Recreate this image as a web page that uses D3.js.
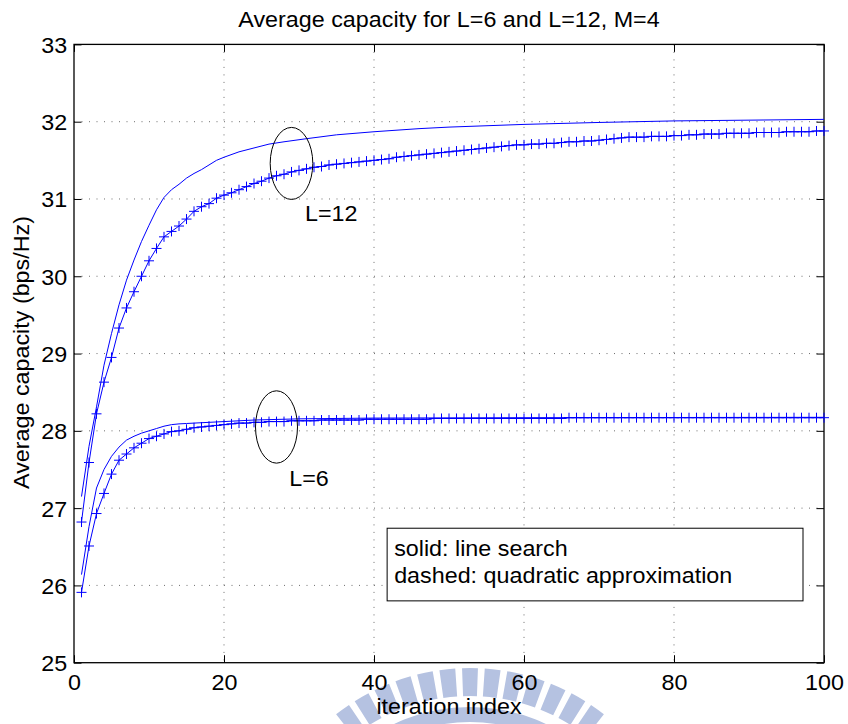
<!DOCTYPE html>
<html>
<head>
<meta charset="utf-8">
<script src="https://cdn.jsdelivr.net/npm/d3@7"></script>
<style>
  body { margin: 0; background: #fff; }
  text { font-family: "Liberation Sans", Arial, Helvetica, sans-serif; }
</style>
</head>
<body>
<div id="chart"></div>
<script>
// ---- data ----
const xTicks = [0, 20, 40, 60, 80, 100];
const yTicks = [25, 26, 27, 28, 29, 30, 31, 32, 33];

// iteration index of the marker series (one marker per iteration)
const iterations = d3.range(1, 101);

// L=12, "+" markers
const capL12Marker = [
  26.82, 27.59, 28.22, 28.63, 28.95, 29.33, 29.59, 29.80, 30.00, 30.20,
  30.36, 30.51, 30.58, 30.65, 30.74, 30.84, 30.90, 30.94, 31.01, 31.05,
  31.08, 31.12, 31.16, 31.20, 31.23, 31.27, 31.30, 31.32, 31.35, 31.37,
  31.39, 31.41, 31.42, 31.44, 31.45, 31.46, 31.47, 31.48, 31.49, 31.50,
  31.51, 31.52, 31.54, 31.55, 31.56, 31.57, 31.58, 31.59, 31.60, 31.61,
  31.62, 31.63, 31.64, 31.65, 31.66, 31.67, 31.68, 31.69, 31.70, 31.70,
  31.71, 31.71, 31.72, 31.72, 31.73, 31.74, 31.74, 31.75, 31.75, 31.76,
  31.77, 31.78, 31.79, 31.80, 31.80, 31.80, 31.81, 31.81, 31.81, 31.82,
  31.82, 31.83, 31.83, 31.84, 31.84, 31.84, 31.85, 31.85, 31.85, 31.85,
  31.86, 31.86, 31.86, 31.86, 31.87, 31.87, 31.87, 31.87, 31.88, 31.88
];

// L=6, "+" markers
const capL6Marker = [
  25.91, 26.51, 26.93, 27.19, 27.44, 27.62, 27.70, 27.78, 27.84, 27.90,
  27.93, 27.96, 27.99, 28.00, 28.02, 28.04, 28.05, 28.06, 28.07, 28.08,
  28.09, 28.10, 28.10, 28.11, 28.11, 28.12, 28.12, 28.12, 28.13, 28.13,
  28.13, 28.13, 28.14, 28.14, 28.14, 28.14, 28.14, 28.14, 28.15, 28.15,
  28.15, 28.15, 28.15, 28.15, 28.15, 28.15, 28.15, 28.16, 28.16, 28.16,
  28.16, 28.16, 28.16, 28.16, 28.16, 28.16, 28.16, 28.16, 28.16, 28.16,
  28.16, 28.16, 28.16, 28.16, 28.16, 28.17, 28.17, 28.17, 28.17, 28.17,
  28.17, 28.17, 28.17, 28.17, 28.17, 28.17, 28.17, 28.17, 28.17, 28.17,
  28.17, 28.17, 28.17, 28.17, 28.17, 28.17, 28.17, 28.17, 28.17, 28.17,
  28.17, 28.17, 28.17, 28.17, 28.17, 28.17, 28.17, 28.17, 28.17, 28.17
];

// L=12, solid line (no markers)
const solidL12Iter = [1, 2, 3, 4, 5, 6, 7, 8, 9, 10, 11, 12, 13, 14, 15, 16, 17, 18, 19, 20,
  22, 24, 26, 28, 31, 35, 40, 46, 50, 60, 70, 80, 90, 100];
const solidL12 = [27.15, 27.80, 28.31, 28.85, 29.26, 29.63, 29.95, 30.21, 30.45, 30.66,
  30.86, 31.02, 31.12, 31.19, 31.27, 31.33, 31.38, 31.44, 31.50, 31.54,
  31.61, 31.66, 31.71, 31.74, 31.78, 31.83, 31.87, 31.91, 31.93, 31.965,
  31.99, 32.01, 32.02, 32.03];

// L=6, solid line (no markers)
const solidL6Iter = [1, 2, 3, 4, 5, 6, 7, 8, 9, 10, 11, 12, 13, 14, 15, 16, 18, 20, 24, 30, 40, 60, 100];
const solidL6 = [26.14, 26.76, 27.26, 27.50, 27.67, 27.79, 27.88, 27.93, 27.97, 28.00,
  28.03, 28.06, 28.08, 28.09, 28.095, 28.10, 28.11, 28.12, 28.14, 28.155,
  28.165, 28.17, 28.175];

// annotations (data coordinates)
const groupLabels = ["L=12", "L=6"];
const ellipseCenter = [[29.0, 31.46], [27.0, 28.05]];
const ellipseRadius = [[2.84, 0.466], [2.8, 0.468]];
const labelPos = [[30.8, 30.71], [28.7, 27.29]];
const noteLines = ["solid: line search", "dashed: quadratic approximation"];

// ---- drawing ----
const W = 848, H = 724;
const blue = "#0000ff";
const fs = 22, sx = 1.06;

const x = d3.scaleLinear().domain([0, 100]).range([74, 824]);
const y = d3.scaleLinear().domain([25, 33]).range([662.7, 44.4]);

const svg = d3.select("#chart").append("svg")
  .attr("width", W)
  .attr("height", H);
svg.append("rect").attr("width", W).attr("height", H).attr("fill", "#fff");

// faint logo watermark at the bottom
const wm = svg.append("g").attr("fill", "#b5c2e1");
const wmArc = d3.arc().innerRadius(189).outerRadius(217);
d3.range(-36, 37, 6).forEach(a => {
  const r0 = (a - 2.1) * Math.PI / 180, r1 = (a + 2.1) * Math.PI / 180;
  wm.append("path")
    .attr("transform", "translate(470,885)")
    .attr("d", wmArc({ startAngle: r0, endAngle: r1 }));
});
wm.append("path")
  .attr("transform", "translate(470,885)")
  .attr("d", d3.arc().innerRadius(163).outerRadius(178)({ startAngle: -0.75, endAngle: 0.75 }));

// dotted grid
const grid = svg.append("g")
  .attr("stroke", "#333")
  .attr("stroke-width", 1)
  .attr("stroke-dasharray", "1,6.5")
  .attr("opacity", 0.7);
grid.selectAll(".gx").data(xTicks.slice(1, -1)).join("line")
  .attr("x1", d => x(d)).attr("x2", d => x(d))
  .attr("y1", y(33)).attr("y2", y(25));
grid.selectAll(".gy").data(yTicks.slice(1, -1)).join("line")
  .attr("x1", x(0)).attr("x2", x(100))
  .attr("y1", d => y(d)).attr("y2", d => y(d));

// axes, ticks inward on all four sides
const stretch = sel => sel.selectAll("text")
  .attr("font-size", fs)
  .attr("fill", "#000")
  .attr("transform", `scale(${sx},1)`);

const gB = svg.append("g").attr("transform", `translate(0,${y(25)})`)
  .call(d3.axisBottom(x).tickValues(xTicks).tickSizeInner(-7.5).tickSizeOuter(0));
gB.selectAll("text").attr("y", 27.5).attr("dy", 0);
stretch(gB);

const gL = svg.append("g").attr("transform", `translate(${x(0)},0)`)
  .call(d3.axisLeft(y).tickValues(yTicks).tickSizeInner(-7.5).tickSizeOuter(0));
gL.selectAll("text").attr("x", -6.5).attr("dy", "0.36em");
stretch(gL);

svg.append("g").attr("transform", `translate(0,${y(33)})`)
  .call(d3.axisTop(x).tickValues(xTicks).tickSizeInner(-7.5).tickSizeOuter(0).tickFormat(""));
svg.append("g").attr("transform", `translate(${x(100)},0)`)
  .call(d3.axisRight(y).tickValues(yTicks).tickSizeInner(-7.5).tickSizeOuter(0).tickFormat(""));

svg.selectAll(".domain").remove();
svg.selectAll(".tick line").attr("stroke", "#000").attr("stroke-width", 1);

// frame
svg.append("rect")
  .attr("x", x(0)).attr("y", y(33))
  .attr("width", x(100) - x(0)).attr("height", y(25) - y(33))
  .attr("fill", "none").attr("stroke", "#000").attr("stroke-width", 1.3);

// curves
const line = d3.line().x(d => x(d[0])).y(d => y(d[1]));
const curves = svg.append("g").attr("fill", "none").attr("stroke", blue).attr("stroke-width", 1);

curves.append("path").attr("d", line(solidL12Iter.map((t, i) => [t, solidL12[i]])));
curves.append("path").attr("d", line(solidL6Iter.map((t, i) => [t, solidL6[i]])));

[capL12Marker, capL6Marker].forEach(vals => {
  const pts = iterations.map((t, i) => [t, vals[i]]);
  curves.append("path").attr("d", line(pts));
  curves.append("g").selectAll("path").data(pts).join("path")
    .attr("d", d => `M${x(d[0]) - 5},${y(d[1])}H${x(d[0]) + 5}M${x(d[0])},${y(d[1]) - 5}V${y(d[1]) + 5}`);
});

// ellipses + labels
const ann = svg.append("g");
groupLabels.forEach((lab, k) => {
  const [cx, cy] = ellipseCenter[k];
  const [rx, ry] = ellipseRadius[k];
  ann.append("ellipse")
    .attr("cx", x(cx)).attr("cy", y(cy))
    .attr("rx", x(cx + rx) - x(cx)).attr("ry", y(cy - ry) - y(cy))
    .attr("fill", "none").attr("stroke", "#000").attr("stroke-width", 1);
  ann.append("text")
    .attr("transform", `translate(${x(labelPos[k][0])},${y(labelPos[k][1])}) scale(${sx},1)`)
    .attr("font-size", fs)
    .text(lab);
});

// note box
const boxX = [41.75, 97.2], boxY = [26.74, 25.80];
svg.append("rect")
  .attr("x", x(boxX[0])).attr("y", y(boxY[0]))
  .attr("width", x(boxX[1]) - x(boxX[0])).attr("height", y(boxY[1]) - y(boxY[0]))
  .attr("fill", "#fff").attr("stroke", "#000").attr("stroke-width", 1);
noteLines.forEach((t, i) => {
  svg.append("text")
    .attr("transform", `translate(${x(boxX[0]) + 7},${y(boxY[0]) + 27.5 + i * 27}) scale(${sx},1)`)
    .attr("font-size", fs)
    .text(t);
});

// title and axis labels
svg.append("text")
  .attr("transform", `translate(449,27) scale(${sx},1)`)
  .attr("text-anchor", "middle")
  .attr("font-size", fs)
  .text("Average capacity for L=6 and L=12, M=4");

svg.append("text")
  .attr("transform", `translate(449,714) scale(${sx},1)`)
  .attr("text-anchor", "middle")
  .attr("font-size", fs)
  .text("iteration index");

svg.append("text")
  .attr("transform", `translate(28.5,352.5) rotate(-90) scale(${sx},1)`)
  .attr("text-anchor", "middle")
  .attr("font-size", fs)
  .text("Average capacity (bps/Hz)");
</script>
</body>
</html>
